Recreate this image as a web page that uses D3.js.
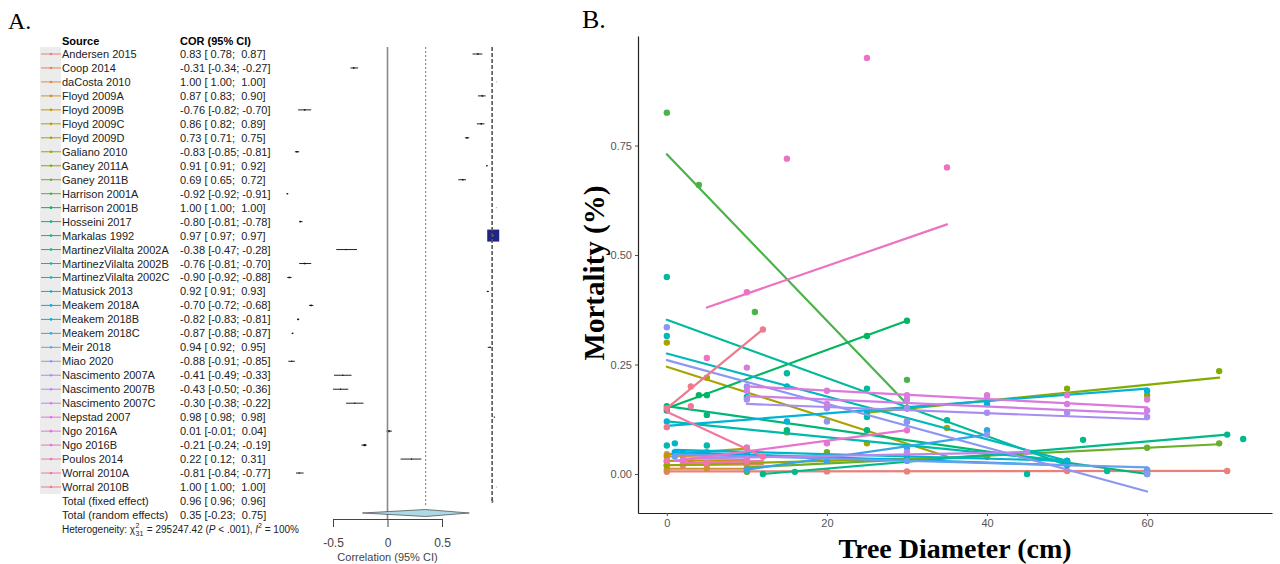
<!DOCTYPE html>
<html>
<head>
<meta charset="utf-8">
<script src="https://cdn.jsdelivr.net/npm/d3@7/dist/d3.min.js"></script>
<style>
  body { margin: 0; background: #fff; }
  svg text { font-family: "Liberation Sans", Arial, sans-serif; white-space: pre; }
</style>
</head>
<body>
<svg id="chart" width="1280" height="564"></svg>
<script>
// ---- panel A data (forest plot) ----
const studies = ["Andersen 2015", "Coop 2014", "daCosta 2010", "Floyd 2009A", "Floyd 2009B",
  "Floyd 2009C", "Floyd 2009D", "Galiano 2010", "Ganey 2011A", "Ganey 2011B", "Harrison 2001A",
  "Harrison 2001B", "Hosseini 2017", "Markalas 1992", "MartinezVilalta 2002A",
  "MartinezVilalta 2002B", "MartinezVilalta 2002C", "Matusick 2013", "Meakem 2018A",
  "Meakem 2018B", "Meakem 2018C", "Meir 2018", "Miao 2020", "Nascimento 2007A",
  "Nascimento 2007B", "Nascimento 2007C", "Nepstad 2007", "Ngo 2016A", "Ngo 2016B",
  "Poulos 2014", "Worral 2010A", "Worral 2010B"];
const cor = [0.83, -0.31, 1.00, 0.87, -0.76, 0.86, 0.73, -0.83, 0.91, 0.69, -0.92, 1.00, -0.80,
  0.97, -0.38, -0.76, -0.90, 0.92, -0.70, -0.82, -0.87, 0.94, -0.88, -0.41, -0.43, -0.30, 0.98,
  0.01, -0.21, 0.22, -0.81, 1.00];
const lower = [0.78, -0.34, 1.00, 0.83, -0.82, 0.82, 0.71, -0.85, 0.91, 0.65, -0.92, 1.00, -0.81,
  0.97, -0.47, -0.81, -0.92, 0.91, -0.72, -0.83, -0.88, 0.92, -0.91, -0.49, -0.50, -0.38, 0.98,
  -0.01, -0.24, 0.12, -0.84, 1.00];
const upper = [0.87, -0.27, 1.00, 0.90, -0.70, 0.89, 0.75, -0.81, 0.92, 0.72, -0.91, 1.00, -0.78,
  0.97, -0.28, -0.70, -0.88, 0.93, -0.68, -0.81, -0.87, 0.95, -0.85, -0.33, -0.36, -0.22, 0.98,
  0.04, -0.19, 0.31, -0.77, 1.00];
const weight = [1, 1, 0, 1, 1, 1, 1, 1, 0.5, 1, 0.8, 0, 1, 60, 0.6, 1, 1, 0.4, 1, 1, 0.8, 0.4, 0.6,
  0.5, 0.5, 0.6, 0.1, 2, 2, 0.5, 0.6, 0];
const totals = [["Total (fixed effect)", 0.96, 0.96, 0.96], ["Total (random effects)", 0.35, -0.23, 0.75]];
const forestTicks = [-0.5, 0, 0.5];

// ---- panel B data (mortality vs diameter), one entry per study series ----
const bStudy = [0, 1, 2, 3, 4, 5, 6, 7, 8, 9, 10, 11, 12, 13, 14, 15, 16, 17, 18, 19, 20, 21, 22,
  23, 24, 25, 26, 27, 28, 29, 30, 31];
const bFit = [
  [0, 0.006, 70, 0.007], [0, 0.02, 12, 0.022], [0, 0.04, 10, 0.045], [0, 0.012, 10, 0.012],
  [0, 0.03, 10, 0.032], [0, 0.045, 10, 0.058], [0, 0.245, 35, 0.04], [0, 0.02, 40, 0.04],
  [25, 0.14, 69, 0.22], [10, 0.015, 69, 0.068], [0, 0.73, 30, 0.16], [0, 0.15, 30, 0.35],
  [0, 0.155, 60, 0.0], [12, 0.0, 70, 0.09], [0, 0.352, 50, 0.02], [0, 0.12, 50, 0.03],
  [0, 0.275, 50, 0.03], [1, 0.055, 50, 0.03], [0, 0.11, 60, 0.195], [1, 0.05, 50, 0.02],
  [10, 0.01, 40, 0.09], [1, 0.045, 60, 0.015], [0, 0.26, 60, -0.04], [10, 0.16, 60, 0.125],
  [2, 0.035, 45, 0.05], [10, 0.178, 60, 0.138], [10, 0.20, 60, 0.152], [1, 0.03, 30, 0.10],
  [5, 0.38, 35, 0.57], [2, 0.025, 12, 0.03], [0, 0.142, 12, 0.04], [0, 0.15, 12, 0.33]];
const bPoints = [
  [[0, 0.005], [10, 0.006], [20, 0.006], [30, 0.006], [50, 0.007], [60, 0.007], [70, 0.007]],
  [[0, 0.02], [2, 0.02], [5, 0.022], [10, 0.02]],
  [[0, 0.045], [2, 0.04], [10, 0.045]],
  [[0, 0.01], [5, 0.012], [10, 0.013]],
  [[0, 0.03], [3, 0.03], [10, 0.033]],
  [[0, 0.04], [5, 0.05], [10, 0.06]],
  [[0, 0.30], [5, 0.22], [15, 0.095], [25, 0.07], [35, 0.105]],
  [[0, 0.02], [20, 0.03], [40, 0.04]],
  [[30, 0.15], [40, 0.17], [50, 0.195], [60, 0.18], [69, 0.235]],
  [[10, 0.005], [20, 0.05], [40, 0.04], [60, 0.06], [69, 0.07]],
  [[0, 0.825], [4, 0.66], [11, 0.37], [30, 0.215]],
  [[0, 0.145], [4, 0.18], [5, 0.18], [25, 0.315], [30, 0.35]],
  [[0, 0.155], [5, 0.135], [15, 0.1], [25, 0.1], [50, 0.03], [60, 0.0]],
  [[12, 0.0], [16, 0.005], [52, 0.078], [70, 0.09], [72, 0.08]],
  [[0, 0.45], [15, 0.23], [25, 0.195], [35, 0.123], [45, 0.0], [55, 0.007]],
  [[0, 0.065], [5, 0.065], [10, 0.176], [25, 0.13], [50, 0.03]],
  [[0, 0.315], [15, 0.2], [25, 0.14], [30, 0.12], [50, 0.03]],
  [[1, 0.07], [10, 0.045], [30, 0.04], [50, 0.03]],
  [[0, 0.12], [15, 0.12], [30, 0.15], [40, 0.16], [60, 0.19]],
  [[1, 0.05], [2, 0.05], [10, 0.04], [20, 0.03], [50, 0.02]],
  [[10, 0.01], [20, 0.03], [30, 0.06], [40, 0.10]],
  [[1, 0.04], [10, 0.035], [30, 0.03], [60, 0.01]],
  [[0, 0.335], [10, 0.2], [20, 0.12], [30, 0.12], [40, 0.09], [60, 0.0]],
  [[10, 0.17], [20, 0.15], [30, 0.15], [40, 0.14], [50, 0.14], [60, 0.13]],
  [[2, 0.03], [10, 0.035], [30, 0.05], [45, 0.05]],
  [[10, 0.19], [20, 0.16], [30, 0.17], [50, 0.16], [60, 0.145]],
  [[10, 0.243], [20, 0.19], [30, 0.18], [40, 0.18], [50, 0.18], [60, 0.17]],
  [[2, 0.03], [10, 0.06], [20, 0.07], [30, 0.1]],
  [[5, 0.265], [10, 0.415], [15, 0.72], [25, 0.95], [35, 0.70]],
  [[0, 0.03], [5, 0.025], [10, 0.03]],
  [[0, 0.15], [3, 0.155], [12, 0.04]],
  [[0, 0.107], [3, 0.2], [12, 0.33]]];
const yTicksB = [0, 0.25, 0.5, 0.75];
const xTicksB = [0, 20, 40, 60];

// ggplot-style hue palette (polar LUV), chroma toned down to match the muted print
function hueColor(h) {
  const c = 78, l = 65, hr = (h * Math.PI) / 180;
  const u = c * Math.cos(hr), v = c * Math.sin(hr);
  const Xn = 95.047, Yn = 100, Zn = 108.883;
  const den = Xn + 15 * Yn + 3 * Zn, un = (4 * Xn) / den, vn = (9 * Yn) / den;
  const Y = Yn * Math.pow((l + 16) / 116, 3);
  const up = u / (13 * l) + un, vp = v / (13 * l) + vn;
  const X = (Y * 9 * up) / (4 * vp), Z = (Y * (12 - 3 * up - 20 * vp)) / (4 * vp);
  const x = X / 100, y = Y / 100, z = Z / 100;
  const lin = [3.2404542 * x - 1.5371385 * y - 0.4985314 * z,
    -0.969266 * x + 1.8760108 * y + 0.041556 * z,
    0.0556434 * x - 0.2040259 * y + 1.0572252 * z];
  const g = t => {
    t = t <= 0.0031308 ? 12.92 * t : 1.055 * Math.pow(t, 1 / 2.4) - 0.055;
    return Math.round(255 * Math.max(0, Math.min(1, t)));
  };
  return d3.rgb(g(lin[0]), g(lin[1]), g(lin[2])).formatHex();
}
const palette = studies.map((d, i) => hueColor(15 + (360 / studies.length) * i));

const $svg = d3.select("#chart");
const fmt = v => v.toFixed(2);
const pad = v => (v < 0 ? fmt(v) : " " + fmt(v));
const ciText = (c, lo, hi) => `${fmt(c)} [${pad(lo)}; ${pad(hi)}]`;

// ================= Panel A =================
function drawForest() {
  const g = $svg.append("g").attr("id", "forest");
  const rowY = d3.scaleLinear().domain([0, studies.length - 1]).range([54, 487]);
  const fx = d3.scaleLinear().domain([-0.5, 0.5]).range([333, 442]);
  const size = d3.scaleSqrt().domain([0, d3.max(weight)]).range([0, 12]);
  const big = d3.maxIndex(weight);

  g.append("text").text("A.").attr("x", 8).attr("y", 29)
    .style("font-family", "'Liberation Serif', 'Times New Roman', serif").style("font-size", "24px");

  g.append("rect").attr("x", 40).attr("y", 47).attr("width", 21).attr("height", 447).attr("fill", "#ececec");

  g.append("text").text("Source").attr("x", 62).attr("y", 45)
    .style("font-weight", "bold").style("font-size", "11px");
  g.append("text").text("COR (95% CI)").attr("x", 180).attr("y", 45)
    .style("font-weight", "bold").style("font-size", "11px");

  const rows = g.selectAll(".row").data(studies).join("g").attr("class", "row")
    .attr("transform", (d, i) => `translate(0,${rowY(i)})`);
  rows.append("line").attr("x1", 41).attr("x2", 61).attr("y1", 0).attr("y2", 0)
    .attr("stroke", (d, i) => palette[i]).attr("stroke-width", 1);
  rows.append("circle").attr("cx", 51).attr("cy", 0).attr("r", 1.3).attr("fill", (d, i) => palette[i]);
  rows.append("text").text(d => d).attr("x", 62).attr("y", 4).style("font-size", "11px").attr("fill", "#222");
  rows.append("text").text((d, i) => ciText(cor[i], lower[i], upper[i]))
    .attr("x", 180).attr("y", 4).style("font-size", "11px").attr("fill", "#222");

  // reference lines
  const yTop = 47;
  g.append("line").attr("x1", fx(0)).attr("x2", fx(0)).attr("y1", yTop).attr("y2", 519)
    .attr("stroke", "#8a8a8a").attr("stroke-width", 1.6);
  g.append("line").attr("x1", fx(totals[1][1])).attr("x2", fx(totals[1][1])).attr("y1", yTop).attr("y2", 507)
    .attr("stroke", "#555").attr("stroke-width", 0.8).attr("stroke-dasharray", "2,2");
  g.append("line").attr("x1", fx(totals[0][1])).attr("x2", fx(totals[0][1])).attr("y1", yTop).attr("y2", 502)
    .attr("stroke", "#555").attr("stroke-width", 1.6).attr("stroke-dasharray", "4,2");

  // study estimates
  rows.append("line").attr("x1", (d, i) => fx(lower[i])).attr("x2", (d, i) => fx(upper[i]))
    .attr("y1", 0).attr("y2", 0).attr("stroke", "#222").attr("stroke-width", 1);
  rows.append("rect")
    .attr("x", (d, i) => fx(cor[i]) - Math.max(size(weight[i]), 1.2) / 2)
    .attr("y", (d, i) => -Math.max(size(weight[i]), 1.2) / 2)
    .attr("width", (d, i) => Math.max(size(weight[i]), 1.2))
    .attr("height", (d, i) => Math.max(size(weight[i]), 1.2))
    .attr("fill", (d, i) => (i === big ? "#1f2585" : weight[i] === 0 ? "#bbb" : "#111"));
  rows.filter((d, i) => i === big).append("line")
    .attr("x1", fx(lower[big])).attr("x2", fx(upper[big]) + 0.5).attr("y1", 0).attr("y2", 0)
    .attr("stroke", "#ccc").attr("stroke-width", 1);

  // totals
  totals.forEach((t, k) => {
    const y = rowY(studies.length - 1) + 14 * (k + 1);
    g.append("text").text(t[0]).attr("x", 62).attr("y", y + 4).style("font-size", "11px").attr("fill", "#222");
    g.append("text").text(ciText(t[1], t[2], t[3])).attr("x", 180).attr("y", y + 4)
      .style("font-size", "11px").attr("fill", "#222");
    const yy = k === 0 ? y : y - 2;
    const hh = k === 0 ? 2 : 3.5;
    g.append("path")
      .attr("d", `M${fx(t[2])},${yy} L${fx(t[1])},${yy - hh} L${fx(t[3]) + (k === 0 ? 1 : 0)},${yy} L${fx(t[1])},${yy + hh} Z`)
      .attr("fill", "#add8e6").attr("stroke", "#444").attr("stroke-width", 0.7);
  });

  // heterogeneity
  const hy = 533;
  const h1 = g.append("text").attr("x", 62).attr("y", hy).style("font-size", "10px").attr("fill", "#222")
    .text("Heterogeneity: \u03c7");
  const w1 = h1.node().getComputedTextLength();
  g.append("text").text("2").attr("x", 62 + w1 + 0.5).attr("y", hy - 5).style("font-size", "7px").attr("fill", "#222");
  g.append("text").text("31").attr("x", 62 + w1 + 0.5).attr("y", hy + 3).style("font-size", "7px").attr("fill", "#222");
  const h2 = g.append("text").attr("x", 62 + w1 + 9).attr("y", hy).style("font-size", "10px").attr("fill", "#222");
  h2.append("tspan").text(" = 295247.42 (");
  h2.append("tspan").text("P").style("font-style", "italic");
  h2.append("tspan").text(" < .001), ");
  h2.append("tspan").text("I").style("font-style", "italic");
  h2.append("tspan").text("2").style("font-size", "7px").attr("dy", -5);
  h2.append("tspan").text(" = 100%").attr("dy", 5);

  // axis
  const axisY = 519;
  const axis = g.append("g").attr("transform", `translate(0,${axisY})`)
    .call(d3.axisBottom(fx).tickValues(forestTicks).tickSize(8).tickSizeOuter(0)
      .tickFormat(d => (d === 0 ? "0" : d.toFixed(1))));
  axis.select(".domain").attr("stroke", "#444");
  axis.selectAll(".tick line").attr("stroke", "#444");
  axis.selectAll(".tick text").attr("fill", "#444").style("font-size", "12px")
    .style("font-family", "'Liberation Sans', Arial, sans-serif").attr("y", 19);
  g.append("text").text("Correlation (95% CI)").attr("x", fx(0)).attr("y", 561)
    .attr("text-anchor", "middle").style("font-size", "11px").attr("fill", "#444");
}

// ================= Panel B =================
function drawScatter() {
  const g = $svg.append("g").attr("id", "scatter");
  const x = d3.scaleLinear().domain([-3.6, 75.6]).range([638, 1272]);
  const y = d3.scaleLinear().domain([-0.089, 1.0]).range([513, 36]);
  const serif = "'Liberation Serif', 'Times New Roman', serif";

  g.append("text").text("B.").attr("x", 582).attr("y", 28)
    .style("font-family", serif).style("font-size", "26px");

  const yAxis = g.append("g").attr("transform", `translate(${x.range()[0]},0)`)
    .call(d3.axisLeft(y).tickValues(yTicksB).tickFormat(fmt).tickSize(3).tickSizeOuter(0));
  const xAxis = g.append("g").attr("transform", `translate(0,${y.range()[0]})`)
    .call(d3.axisBottom(x).tickValues(xTicksB).tickSize(3).tickSizeOuter(0));
  [yAxis, xAxis].forEach(a => {
    a.select(".domain").attr("stroke", "#222").attr("stroke-width", 1.2);
    a.selectAll(".tick line").attr("stroke", "#555");
    a.selectAll(".tick text").attr("fill", "#555").style("font-size", "11px")
      .style("font-family", "'Liberation Sans', Arial, sans-serif");
  });

  const series = bStudy.map((s, i) => ({ color: palette[s], fit: bFit[i], pts: bPoints[i] }));
  const sg = g.selectAll(".series").data(series).join("g").attr("class", "series");
  sg.append("line")
    .attr("x1", d => x(d.fit[0])).attr("y1", d => y(d.fit[1]))
    .attr("x2", d => x(d.fit[2])).attr("y2", d => y(d.fit[3]))
    .attr("stroke", d => d.color).attr("stroke-width", 2.2).attr("stroke-linecap", "round");
  sg.selectAll("circle").data(d => d.pts.map(p => ({ p, color: d.color }))).join("circle")
    .attr("cx", d => x(d.p[0])).attr("cy", d => y(d.p[1])).attr("r", 3.2)
    .attr("fill", d => d.color);

  g.append("text").text("Mortality (%)")
    .attr("transform", `translate(604,273) rotate(-90)`)
    .attr("text-anchor", "middle").style("font-family", serif).style("font-weight", "bold")
    .style("font-size", "29px");
  g.append("text").text("Tree Diameter (cm)")
    .attr("x", (x.range()[0] + x.range()[1]) / 2).attr("y", 558)
    .attr("text-anchor", "middle").style("font-family", serif).style("font-weight", "bold")
    .style("font-size", "28px");
}

drawForest();
drawScatter();
</script>
</body>
</html>
